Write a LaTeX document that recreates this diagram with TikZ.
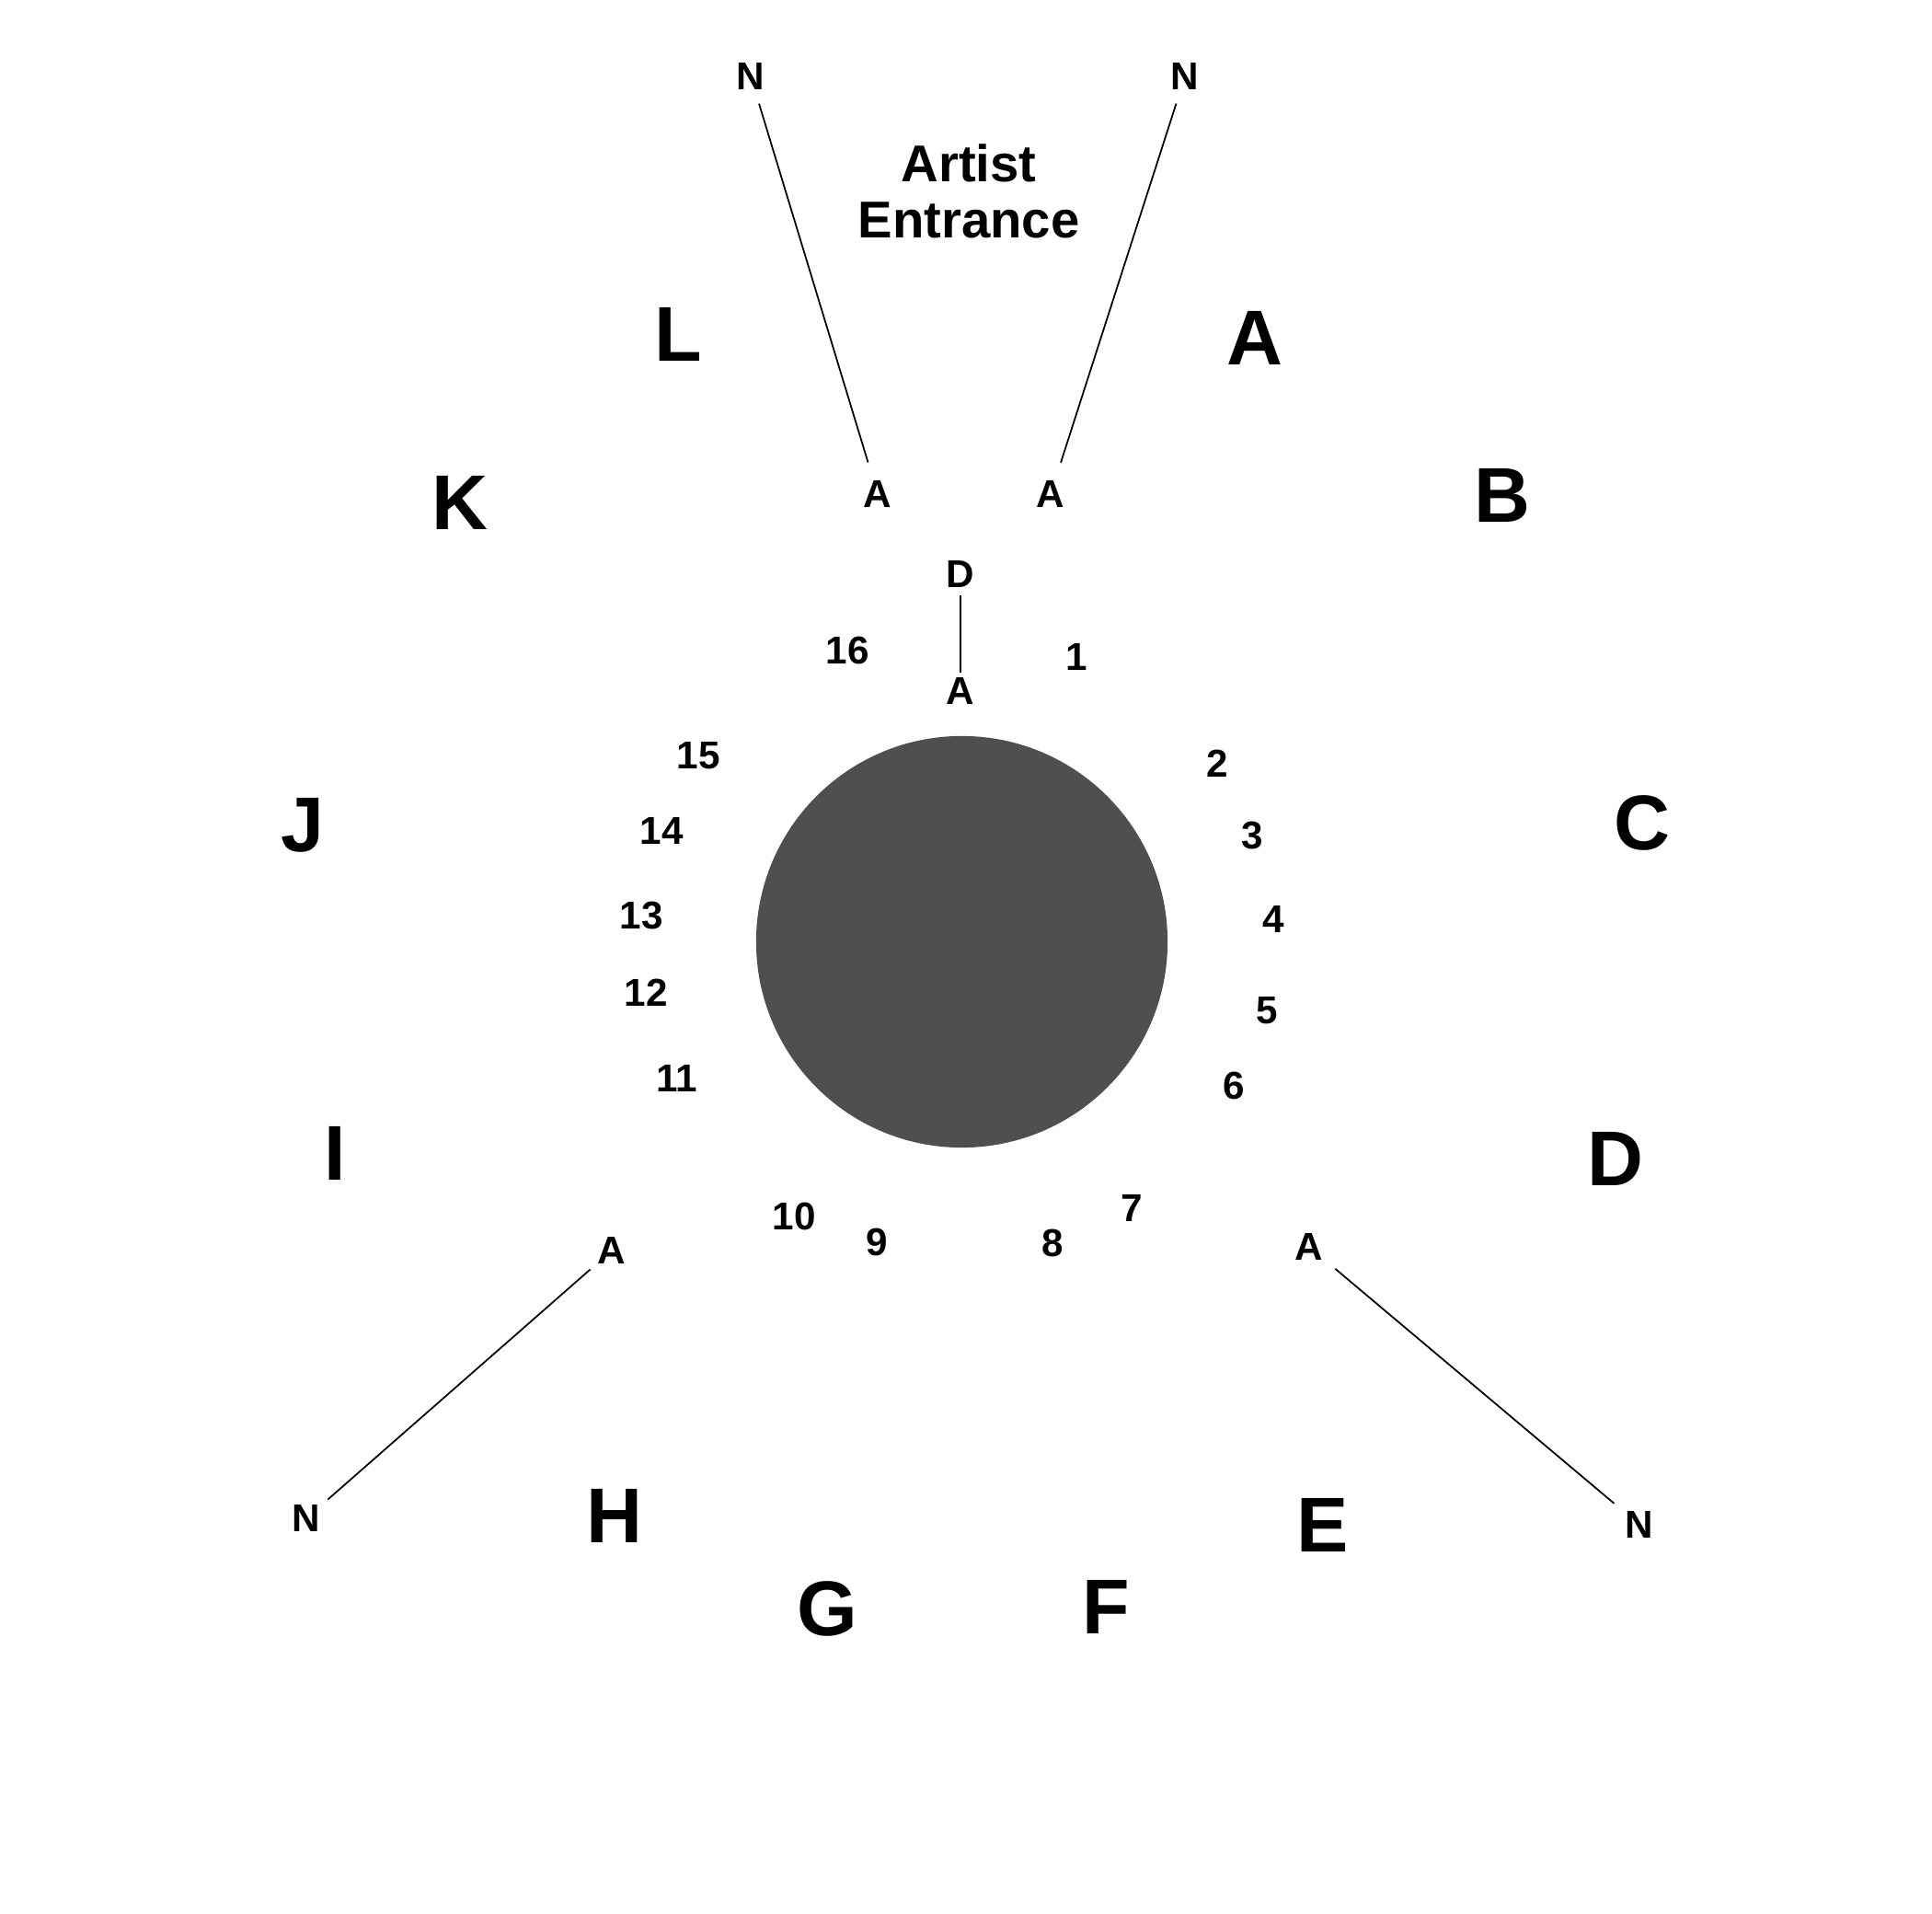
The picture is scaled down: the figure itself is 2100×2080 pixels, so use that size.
\documentclass[tikz,border=0pt]{standalone}
\usepackage{fontspec}
\setmainfont{Liberation Sans}
\definecolor{stagegray}{HTML}{4F4F4F}
\begin{document}
\begin{tikzpicture}[x=0.01cm,y=-0.01cm,
  big/.style={font=\bfseries\fontsize{24}{28}\selectfont, inner sep=0pt},
  small/.style={font=\bfseries\fontsize{12}{14}\selectfont, inner sep=0pt},
  title/.style={font=\bfseries\fontsize{16}{17.5}\selectfont, inner sep=0pt, align=center},
  conn/.style={line width=0.5pt, black}]
\fill[white] (0,0) rectangle (2100,2080);
\useasboundingbox (0,0) rectangle (2100,2080);
% stage
\fill[stagegray] (1045.5,1023.5) circle[radius=2.235cm];
\begin{scope}[xshift=0.02cm]
% title
\node[title] (artist) at (1051,208) {Artist\\Entrance};
% section letters
\node[big] (secL) at (735,363) {L};
\node[big] (secA) at (1362,367) {A};
\node[big] (secK) at (498,546) {K};
\node[big] (secB) at (1631,538) {B};
\node[big] (secJ) at (327,897) {J};
\node[big] (secC) at (1783,894) {C};
\node[big] (secI) at (362,1253) {I};
\node[big] (secD) at (1754,1259) {D};
\node[big] (secH) at (666,1647) {H};
\node[big] (secE) at (1436,1657) {E};
\node[big] (secG) at (897,1748) {G};
\node[big] (secF) at (1200,1746) {F};
% small labels
\node[small] (n1) at (814,83) {N};
\node[small] (n2) at (1286,83) {N};
\node[small] (n3) at (331,1650) {N};
\node[small] (n4) at (1780,1657) {N};
\node[small] (a1) at (952,537) {A};
\node[small] (a2) at (1140,537) {A};
\node[small] (a3) at (1042,751) {A};
\node[small] (a4) at (663,1359) {A};
\node[small] (a5) at (1421,1355) {A};
\node[small] (d1) at (1042,624) {D};
% numbers
\node[small] (g16) at (919,707) {16};
\node[small] (g1) at (1168,714) {1};
\node[small] (g15) at (757,821) {15};
\node[small] (g2) at (1321,830) {2};
\node[small] (g14) at (717,903) {14};
\node[small] (g3) at (1359,908) {3};
\node[small] (g13) at (695,995) {13};
\node[small] (g4) at (1382,999) {4};
\node[small] (g12) at (700,1079) {12};
\node[small] (g5) at (1375,1098) {5};
\node[small] (g11) at (734,1172) {11};
\node[small] (g6) at (1339,1180) {6};
\node[small] (g7) at (1228,1313) {7};
\node[small] (g10) at (861,1322) {10};
\node[small] (g9) at (951,1350) {9};
\node[small] (g8) at (1142,1351) {8};
\end{scope}
% connectors
\draw[conn, shorten <=0.31cm, shorten >=0.36cm] (n1.center) -- (a1.center);
\draw[conn, shorten <=0.31cm, shorten >=0.36cm] (n2.center) -- (a2.center);
\draw[conn, shorten <=0.23cm, shorten >=0.20cm] (d1.center) -- (a3.center);
\draw[conn, shorten <=0.31cm, shorten >=0.31cm] (a4.center) -- (n3.center);
\draw[conn, shorten <=0.37cm, shorten >=0.36cm] (a5.center) -- (n4.center);
\end{tikzpicture}
\end{document}
